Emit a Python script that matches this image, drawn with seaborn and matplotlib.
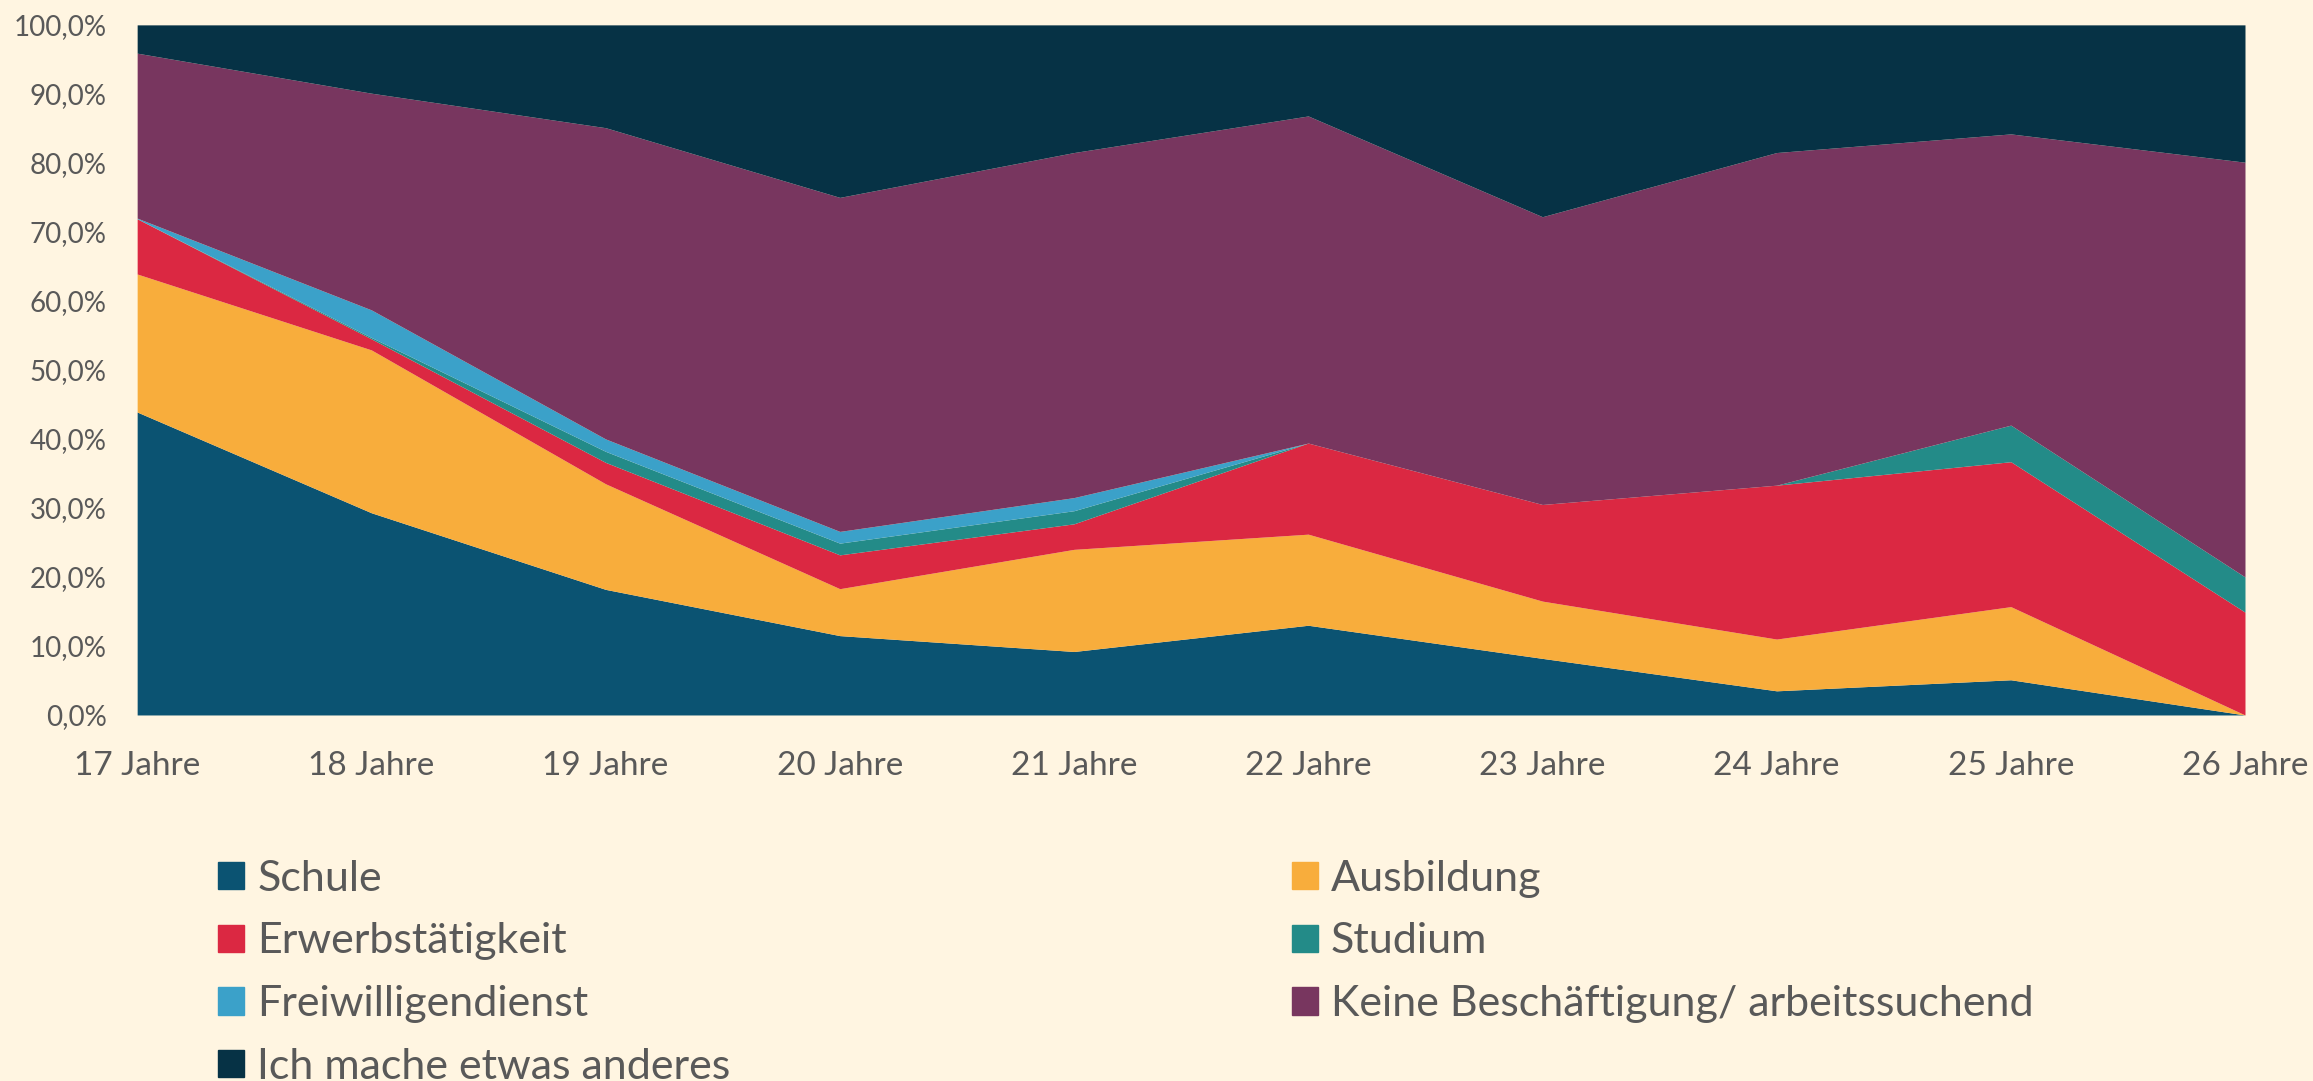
import matplotlib
matplotlib.use("Agg")
import matplotlib.pyplot as plt
import matplotlib.patches as mpatches
from matplotlib.ticker import FuncFormatter
import seaborn as sns
import pandas as pd

ages = ["17 Jahre", "18 Jahre", "19 Jahre", "20 Jahre", "21 Jahre",
        "22 Jahre", "23 Jahre", "24 Jahre", "25 Jahre", "26 Jahre"]

schule = [43.9, 29.3, 18.2, 11.5, 9.2, 13.0, 8.2, 3.5, 5.1, 0.0]
ausbildung = [20.0, 23.6, 15.3, 6.8, 14.8, 13.2, 8.3, 7.5, 10.6, 0.0]
erwerb = [8.0, 1.6, 3.1, 4.9, 3.7, 13.2, 14.0, 22.3, 21.0, 14.9]
studium = [0.0, 0.2, 1.6, 1.7, 1.9, 0.0, 0.0, 0.0, 5.3, 5.1]
freiwillig = [0.1, 4.0, 1.8, 1.7, 1.9, 0.0, 0.0, 0.0, 0.0, 0.0]
keine = [23.9, 31.4, 45.1, 48.4, 50.0, 47.4, 41.7, 48.2, 42.2, 60.1]
anderes = [4.1, 9.9, 14.9, 25.0, 18.5, 13.2, 27.8, 18.5, 15.8, 19.9]

series = ["Schule", "Ausbildung", "Erwerbstätigkeit", "Studium",
          "Freiwilligendienst", "Keine Beschäftigung/ arbeitssuchend",
          "Ich mache etwas anderes"]
colors = ["#0b5372", "#f8ad3c", "#db2842", "#238b88",
          "#3ba1c9", "#78365f", "#063245"]

df = pd.DataFrame({
    "Schule": schule,
    "Ausbildung": ausbildung,
    "Erwerbstätigkeit": erwerb,
    "Studium": studium,
    "Freiwilligendienst": freiwillig,
    "Keine Beschäftigung/ arbeitssuchend": keine,
    "Ich mache etwas anderes": anderes,
}, index=ages)

bg = "#fff5e1"
txt = "#595959"

sns.set_theme(style="white")
plt.rcParams["font.family"] = ["Lato", "DejaVu Sans"]

fig = plt.figure(figsize=(23.13, 10.81), dpi=100, facecolor=bg)
ax = fig.add_axes([0.0593, 0.3386, 0.9113, 0.6384])
ax.set_facecolor(bg)

x = list(range(len(ages)))
ax.stackplot(x, [df[s] for s in series], colors=colors, linewidth=0)

ax.set_xlim(0, len(ages) - 1)
ax.set_ylim(0, 100)
ax.set_yticks(range(0, 101, 10))
ax.yaxis.set_major_formatter(FuncFormatter(lambda v, p: f"{v:.1f}%".replace(".", ",")))
ax.set_xticks(x)
ax.set_xticklabels(ages)
ax.tick_params(axis="y", labelsize=20, colors=txt, length=0, pad=22)
ax.tick_params(axis="x", labelsize=24, colors=txt, length=0, pad=26)
for sp in ax.spines.values():
    sp.set_visible(False)

# legend in two columns, row order like the original
handles = {s: mpatches.Patch(color=c, label=s) for s, c in zip(series, colors)}
col1 = ["Schule", "Erwerbstätigkeit", "Freiwilligendienst", "Ich mache etwas anderes"]
col2 = ["Ausbildung", "Studium", "Keine Beschäftigung/ arbeitssuchend"]
for names, xpos in [(col1, 0.0944), (col2, 0.5587)]:
    fig.legend(handles=[handles[n] for n in names], loc="upper left",
               bbox_to_anchor=(xpos, 0.2045), frameon=False, fontsize=31,
               labelcolor=txt, handlelength=0.6, handleheight=0.6,
               handletextpad=0.3, labelspacing=0.57, borderaxespad=0,
               borderpad=0)

fig.savefig("out.png", dpi=100, facecolor=bg)
